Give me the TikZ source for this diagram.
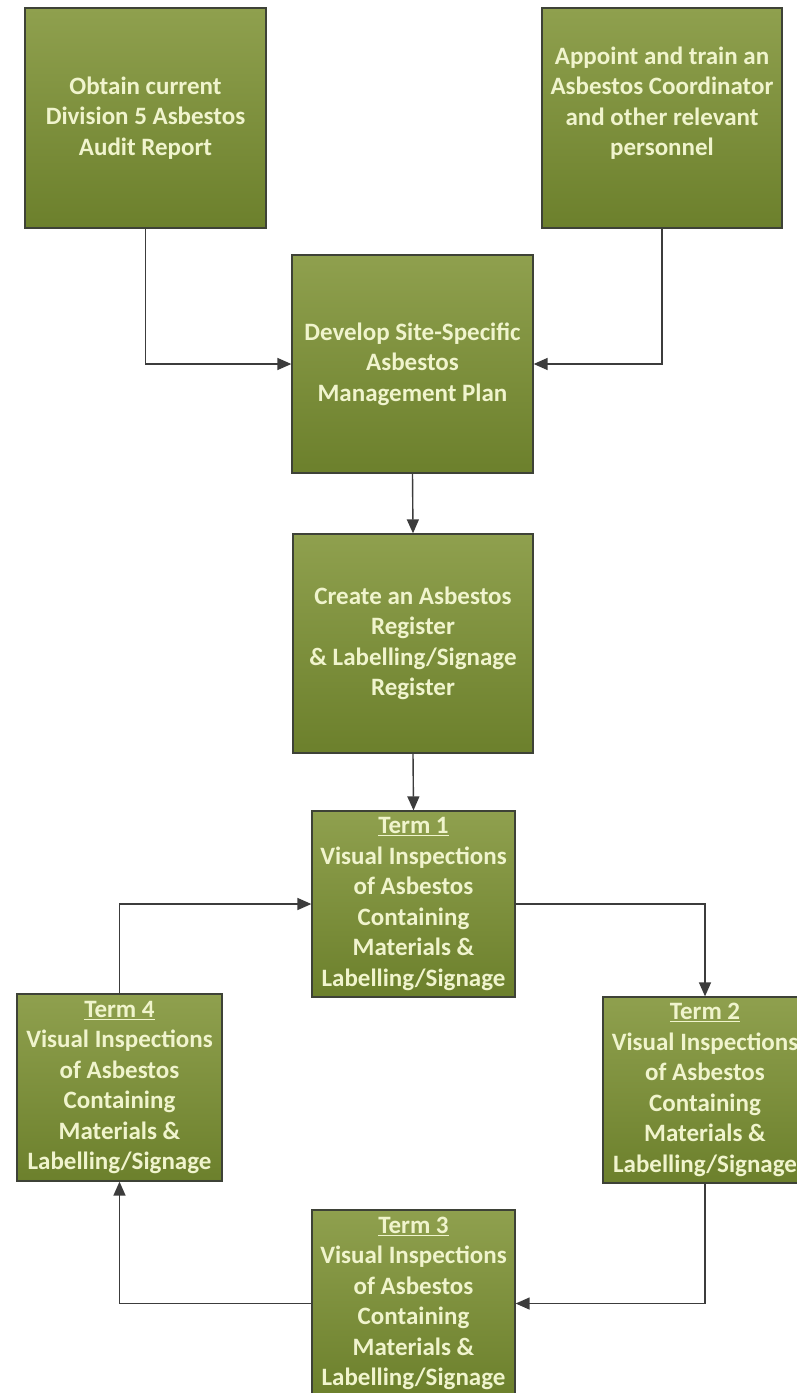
\documentclass[tikz,border=0pt]{standalone}
\usepackage{fontspec}
\setmainfont{Carlito}
\usetikzlibrary{arrows.meta}
\definecolor{boxtop}{RGB}{143,160,78}
\definecolor{boxmid}{RGB}{124,143,58}
\definecolor{boxbot}{RGB}{108,128,44}
\definecolor{boxline}{RGB}{62,66,55}
\definecolor{txt}{RGB}{240,244,205}
\definecolor{conn}{RGB}{60,60,60}
\tikzset{
  greenbox/.style={rectangle, inner sep=0pt, draw=boxline, line width=1.3pt,
    top color=boxtop, middle color=boxmid, bottom color=boxbot, text=txt, align=center,
    font=\bfseries\fontsize{25}{30.5}\selectfont},
  boxtext/.style={inner sep=0pt, text=txt, align=center,
    font=\bfseries\fontsize{25}{30.5}\selectfont},
  arr/.style={draw=conn, line width=1.4pt, -{Triangle[length=14pt,width=12pt]}}
}
\begin{document}
\begin{tikzpicture}[x=1pt,y=-1pt]
\useasboundingbox (0,0) rectangle (797,1393);
\fill[white] (0,0) rectangle (797,1393);
\node[greenbox, minimum width=241pt, minimum height=220pt] (A) at (145.5,118)
  {Obtain current\\Division 5 Asbestos\\Audit Report};
\node[greenbox, minimum width=240pt, minimum height=220pt] (B) at (662,118) {};
\node[boxtext] (Bt) at (662,103)
  {Appoint and train an\\Asbestos Coordinator\\and other relevant\\personnel};
\node[greenbox, minimum width=241pt, minimum height=218pt] (C) at (412.5,364)
  {Develop Site-Specific\\Asbestos\\Management Plan};
\node[greenbox, minimum width=240pt, minimum height=219pt] (D) at (413,643.5)
  {Create an Asbestos\\Register\\\& Labelling/Signage\\Register};
\node[greenbox, minimum width=203pt, minimum height=186pt] (T1) at (413.5,904)
  {\underline{Term 1}\\Visual Inspections\\of Asbestos\\Containing\\Materials \&\\Labelling/Signage};
\node[greenbox, minimum width=204pt, minimum height=186pt] (T2) at (705,1090)
  {\underline{Term 2}\\Visual Inspections\\of Asbestos\\Containing\\Materials \&\\Labelling/Signage};
\node[greenbox, minimum width=203pt, minimum height=187pt] (T3) at (413.5,1303.5)
  {\underline{Term 3}\\Visual Inspections\\of Asbestos\\Containing\\Materials \&\\Labelling/Signage};
\node[greenbox, minimum width=205pt, minimum height=187pt] (T4) at (119.5,1087.5)
  {\underline{Term 4}\\Visual Inspections\\of Asbestos\\Containing\\Materials \&\\Labelling/Signage};
\draw[arr] (A.south) |- (C.west);
\draw[arr] (B.south) |- (C.east);
\draw[arr] (C.south) -- (D.north);
\draw[arr] (D.south) -- (T1.north);
\draw[arr] (T1.east) -| (T2.north);
\draw[arr] (T2.south) |- (T3.east);
\draw[arr] (T3.west) -| (T4.south);
\draw[arr] (T4.north) |- (T1.west);
\end{tikzpicture}
\end{document}
